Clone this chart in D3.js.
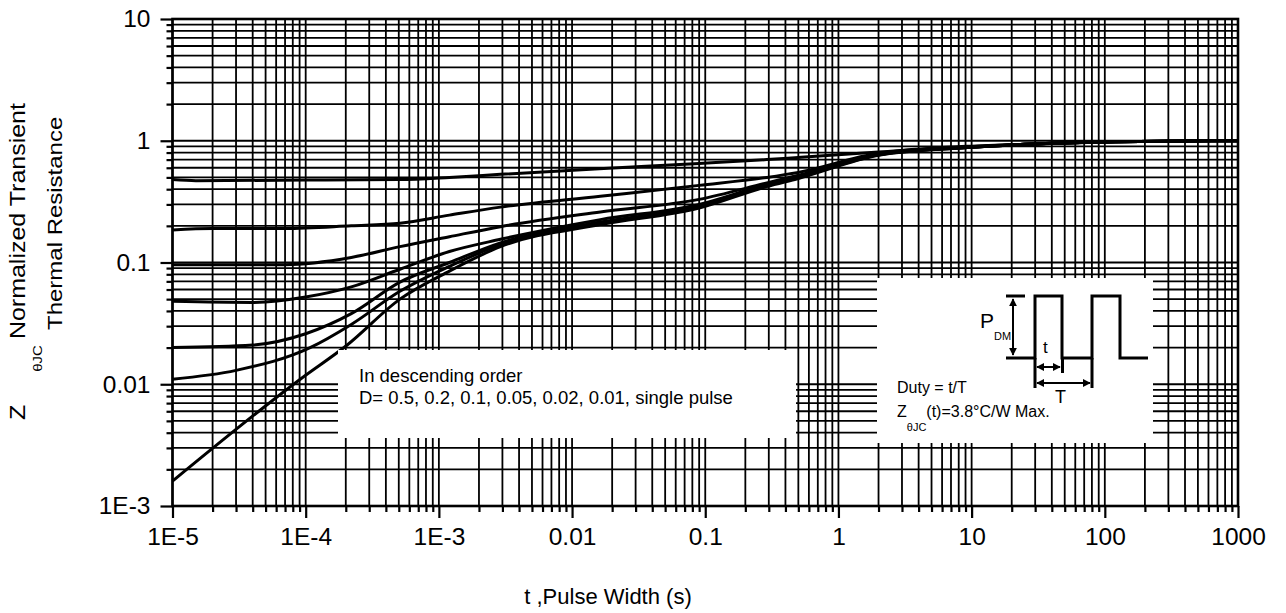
<!DOCTYPE html>
<html><head><meta charset="utf-8">
<script src="https://cdn.jsdelivr.net/npm/d3@7"></script>
<style>
body{margin:0;background:#fff}
text{font-family:"Liberation Sans",Arial,Helvetica,sans-serif;fill:#000}
</style>
</head><body>
<svg id="chart" width="1286" height="613"></svg>
<script>
// ---- tick labels ----
const xTickValues = [1e-5, 1e-4, 1e-3, 0.01, 0.1, 1, 10, 100, 1000];
const xTickLabels = ["1E-5", "1E-4", "1E-3", "0.01", "0.1", "1", "10", "100", "1000"];
const yTickValues = [1e-3, 0.01, 0.1, 1, 10];
const yTickLabels = ["1E-3", "0.01", "0.1", "1", "10"];

// ---- series: [pulse width t (s), normalized Z] ----
const dutyNames = ["0.5", "0.2", "0.1", "0.05", "0.02", "0.01", "single pulse"];
const d05 = [[1e-5,0.48],[1.5e-5,0.47],[1e-4,0.475],[5e-4,0.48],[1.2e-3,0.50],[2.9e-3,0.53],[0.016,0.59],[0.09,0.65],[0.29,0.70],[0.5,0.73],[2,0.81],[9.3,0.9],[29,0.94],[120,0.98],[1000,1.0]];
const d02 = [[1e-5,0.185],[2e-5,0.19],[7e-5,0.19],[2.2e-4,0.20],[5.1e-4,0.21],[1.2e-3,0.245],[2.9e-3,0.285],[0.0163,0.35],[0.09,0.43],[0.29,0.50],[0.5,0.55],[2,0.79],[9.3,0.89],[29,0.94],[120,0.98],[1000,1.0]];
const d01 = [[1e-5,0.096],[7e-5,0.096],[2.2e-4,0.11],[5.1e-4,0.135],[1.2e-3,0.163],[2.9e-3,0.197],[0.0163,0.26],[0.09,0.33],[0.29,0.45],[0.5,0.52],[2,0.78],[9.3,0.885],[29,0.94],[120,0.98],[1000,1.0]];
const d005 = [[1e-5,0.048],[4e-5,0.047],[1e-4,0.052],[2.2e-4,0.063],[5.1e-4,0.088],[1.2e-3,0.123],[2.9e-3,0.155],[0.0163,0.225],[0.09,0.30],[0.29,0.44],[0.5,0.51],[2,0.77],[9.3,0.88],[29,0.94],[120,0.98],[1000,1.0]];
const d002 = [[1e-5,0.020],[4e-5,0.021],[1e-4,0.026],[2.2e-4,0.038],[5.1e-4,0.069],[1.2e-3,0.10],[2.9e-3,0.145],[0.0163,0.215],[0.09,0.29],[0.29,0.43],[0.5,0.50],[2,0.77],[9.3,0.88],[29,0.94],[120,0.98],[1000,1.0]];
const d001 = [[1e-5,0.011],[3e-5,0.013],[1.08e-4,0.02],[2.2e-4,0.031],[5.1e-4,0.058],[1.2e-3,0.093],[2.9e-3,0.14],[0.0163,0.21],[0.09,0.285],[0.29,0.43],[0.5,0.50],[2,0.765],[9.3,0.88],[29,0.94],[120,0.98],[1000,1.0]];
const dSingle = [[1e-5,0.0016],[9.1e-5,0.011],[2.05e-4,0.021],[5.1e-4,0.05],[1.2e-3,0.085],[2.9e-3,0.135],[0.0163,0.205],[0.09,0.28],[0.29,0.42],[0.5,0.49],[2,0.76],[9.3,0.88],[29,0.94],[120,0.98],[1000,1.0]];
const allSeries = [d05, d02, d01, d005, d002, d001, dSingle];

// ---- layout ----
const svg = d3.select("#chart");
const L = 172.5, R = 1238, T = 19, B = 506;
const x = d3.scaleLog().domain([1e-5, 1000]).range([L, R]);
const y = d3.scaleLog().domain([1e-3, 10]).range([B, T]);

function minorVals(lo, hi) {
  const out = [];
  for (let e = Math.round(Math.log10(lo)); e < Math.round(Math.log10(hi)); e++) {
    for (let k = 1; k <= 9; k++) out.push(k * Math.pow(10, e));
  }
  out.push(hi);
  return out;
}
const xAll = minorVals(1e-5, 1000);
const yAll = minorVals(1e-3, 10);

// grid
const grid = svg.append("g").attr("stroke", "#000").attr("stroke-width", 1.8);
grid.selectAll("line.v").data(xAll).join("line")
  .attr("x1", d => x(d)).attr("x2", d => x(d)).attr("y1", T).attr("y2", B);
grid.selectAll("line.h").data(yAll).join("line").attr("class","h")
  .attr("y1", d => y(d)).attr("y2", d => y(d)).attr("x1", L).attr("x2", R);

// curves
const line = d3.line().x(d => x(d[0])).y(d => y(d[1])).curve(d3.curveMonotoneX);
svg.append("g").selectAll("path").data(allSeries).join("path")
  .attr("d", line).attr("fill", "none").attr("stroke", "#000")
  .attr("stroke-width", 3).attr("stroke-linejoin", "round");

// white boxes
svg.append("rect").attr("x", 338).attr("y", 350).attr("width", 458).attr("height", 88).attr("fill", "#fff");
svg.append("rect").attr("x", 877).attr("y", 278).attr("width", 276).attr("height", 165).attr("fill", "#fff");

// frame
svg.append("rect").attr("x", L).attr("y", T).attr("width", R - L).attr("height", B - T)
  .attr("fill", "none").attr("stroke", "#000").attr("stroke-width", 2.6);

// axes
function styleAxis(g) {
  g.select(".domain").remove();
  g.selectAll(".tick line").attr("stroke", "#000").attr("stroke-width", 2.2);
  g.selectAll(".tick text").attr("fill", "#000");
}
const minorX = xAll.filter(v => !xTickValues.includes(v));
const minorY = yAll.filter(v => !yTickValues.includes(v));
svg.append("g").attr("transform", `translate(0,${B})`)
  .call(d3.axisBottom(x).tickValues(minorX).tickSize(6).tickFormat(""))
  .call(styleAxis);
svg.append("g").attr("transform", `translate(0,${B})`)
  .call(d3.axisBottom(x).tickValues(xTickValues).tickSize(12).tickPadding(10)
    .tickFormat((d, i) => xTickLabels[i]))
  .call(styleAxis)
  .selectAll("text").style("font-size", "24.5px").attr("font-family", null);
svg.append("g").attr("transform", `translate(${L},0)`)
  .call(d3.axisLeft(y).tickValues(minorY).tickSize(6).tickFormat(""))
  .call(styleAxis);
svg.append("g").attr("transform", `translate(${L},0)`)
  .call(d3.axisLeft(y).tickValues(yTickValues).tickSize(12).tickPadding(10)
    .tickFormat((d, i) => yTickLabels[i]))
  .call(styleAxis)
  .selectAll("text").style("font-size", "24.5px").attr("font-family", null);

// axis titles
svg.append("text").attr("x", 608).attr("y", 604).attr("text-anchor", "middle")
  .style("font-size", "22px").text("t ,Pulse Width (s)");
const yt1 = svg.append("text").attr("transform", "translate(25,420) rotate(-90) scale(1,0.88)").style("font-size", "25px");
yt1.append("tspan").text("Z");
yt1.append("tspan").attr("dx", 33).attr("dy", 19).style("font-size", "15px").text("θJC");
yt1.append("tspan").attr("dx", 6).attr("dy", -19).text("Normalized Transient");
svg.append("text").attr("transform", "translate(62,330) rotate(-90) scale(1,0.88)").style("font-size", "24px")
  .text("Thermal Resistance");

// legend note
svg.append("text").attr("x", 359).attr("y", 382).style("font-size", "18.5px").text("In descending order");
svg.append("text").attr("x", 359).attr("y", 404).style("font-size", "18.5px")
  .text("D= " + dutyNames.slice(0, 6).join(", ") + ", " + dutyNames[6]);

// inset
svg.append("text").attr("x", 897).attr("y", 393).style("font-size", "16px").text("Duty = t/T");
const zt = svg.append("text").attr("x", 897).attr("y", 417).style("font-size", "16px");
zt.append("tspan").text("Z");
zt.append("tspan").attr("dy", 14).style("font-size", "11px").text("θJC");
zt.append("tspan").attr("dy", -14).text("(t)=3.8°C/W Max.");
const pt = svg.append("text").attr("x", 980).attr("y", 328).style("font-size", "21px");
pt.append("tspan").text("P");
pt.append("tspan").attr("dy", 12).style("font-size", "11px").text("DM");
svg.append("text").attr("x", 1043).attr("y", 353).style("font-size", "17px").text("t");
svg.append("text").attr("x", 1055).attr("y", 403).style("font-size", "18px").text("T");

const defs = svg.append("defs");
defs.append("marker").attr("id", "ah").attr("viewBox", "0 0 10 10").attr("refX", 9).attr("refY", 5)
  .attr("markerWidth", 4).attr("markerHeight", 4).attr("orient", "auto-start-reverse")
  .append("path").attr("d", "M0,0L10,5L0,10z").attr("fill", "#000");

const wf = svg.append("g").attr("stroke", "#000").attr("stroke-width", 3).attr("fill", "none");
wf.append("path").attr("d", "M1006,358H1035V296H1062V358H1092V296H1120V358H1148");
wf.append("path").attr("d", "M1006,296H1025");
wf.append("path").attr("d", "M1035,358V388M1062.5,358V373M1092,358V388");
const ar = svg.append("g").attr("stroke", "#000").attr("stroke-width", 2);
ar.append("line").attr("x1", 1013).attr("x2", 1013).attr("y1", 299).attr("y2", 355)
  .attr("marker-start", "url(#ah)").attr("marker-end", "url(#ah)");
ar.append("line").attr("x1", 1037).attr("x2", 1060).attr("y1", 367).attr("y2", 367)
  .attr("marker-start", "url(#ah)").attr("marker-end", "url(#ah)");
ar.append("line").attr("x1", 1037).attr("x2", 1090).attr("y1", 383).attr("y2", 383)
  .attr("marker-start", "url(#ah)").attr("marker-end", "url(#ah)");
</script>
</body></html>
